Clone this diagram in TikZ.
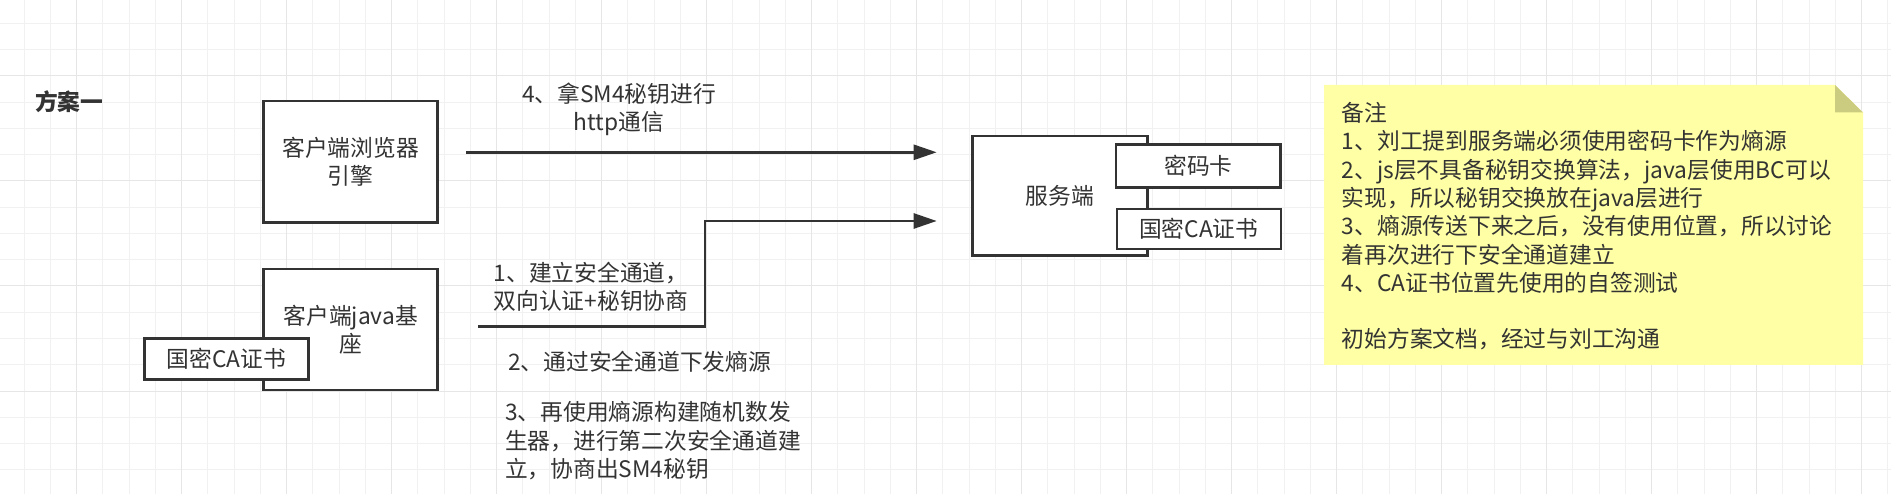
\documentclass[tikz,border=0pt]{standalone}
\usepackage{fontspec}
\setmainfont{Noto Sans CJK SC}
\usetikzlibrary{arrows.meta}
\definecolor{ink}{HTML}{333333}
\definecolor{notefill}{HTML}{FFFFA6}
\definecolor{notefold}{HTML}{CCCC80}
\definecolor{gridminor}{HTML}{F1F1F1}
\definecolor{gridmajor}{HTML}{E6E6E6}
\newcommand{\txtsize}{\fontsize{22.75}{28.3}\selectfont}
\tikzset{
  box/.style={draw=ink,line width=2.6pt,fill=white,align=center,inner sep=0pt,text=ink},
  wire/.style={draw=ink,line width=2.6pt,-{Triangle[length=23pt,width=15pt]}},
  lbl/.style={text=ink,inner sep=0pt},
}
\begin{document}
\begin{tikzpicture}[x=1pt,y=-1pt,font=\txtsize] % plan one: client, server, note
        \useasboundingbox (0,0) rectangle (1891,494);
        \fill[white] (0,0) rectangle (1891,494);
        \foreach \k in {0,...,71} \draw[gridminor,line width=1pt] ({24+\k*26.25},0) -- ({24+\k*26.25},494);
        \foreach \k in {0,...,17} \draw[gridminor,line width=1pt] (0,{23.5+\k*26.25}) -- (1891,{23.5+\k*26.25});
        \foreach \k in {2,6,...,70} \draw[gridmajor,line width=1pt] ({24+\k*26.25},0) -- ({24+\k*26.25},494);
        \foreach \k in {2,6,10,14} \draw[gridmajor,line width=1pt] (0,{23.5+\k*26.25}) -- (1891,{23.5+\k*26.25});
        \node[lbl,anchor=west,font=\txtsize\bfseries] (title) at (35,101.7) {方案一};
        % client side
        \node[box,minimum width=174pt,minimum height=121.5pt] (browser) at (350.7,161.7) {客户端浏览器\\引擎};
        \node[box,minimum width=174pt,minimum height=121pt] (javabase) at (350.7,329.5) {客户端java基\\座};
        \node[box,minimum width=163.5pt,minimum height=41pt] (caleft) at (226.5,359.2) {国密CA证书};
        % server side
        \node[box,minimum width=174.5pt,minimum height=119.5pt] (server) at (1060,195.8) {服务端};
        \node[box,minimum width=164.5pt,minimum height=43pt] (cipher) at (1198.4,165.8) {密码卡};
        \node[box,minimum width=164pt,minimum height=40pt] (caright) at (1198.8,229.2) {国密CA证书};
        % channels
        \coordinate (httpA) at (466,152.3);
        \coordinate (httpB) at (936.7,152.3);
        \coordinate (tlsA) at (478.3,326.7);
        \coordinate (tlsB) at (936.7,221);
        \draw[wire] (httpA) -- (httpB);
        \draw[wire] (tlsA) -- ++(226.7,0) |- (tlsB);
        \node[lbl,align=center] (lblhttp) at (619,109) {4、拿SM4秘钥进行\\http通信};
        \node[lbl,align=center] (lbltls) at (591,286.5) {1、建立安全通道，\\双向认证+秘钥协商};
        \node[lbl,anchor=west] (lblseed) at (508,362) {2、通过安全通道下发熵源};
        \node[lbl,align=left,anchor=north west] (lblsm4) at (505,400.8) {\strut 3、再使用熵源构建随机数发\\生器，进行第二次安全通道建\\立，协商出SM4秘钥};
        % note
        \fill[notefill] (1324,85) -- (1835,85) -- (1863,112.5) -- (1863,365) -- (1324,365) -- cycle;
        \fill[notefold] (1835,85) -- (1835,112.5) -- (1863,112.5) -- cycle;
        \node[lbl,align=left,anchor=north west] (memo) at (1341.7,101.5) {\strut 备注\\1、刘工提到服务端必须使用密码卡作为熵源\\2、js层不具备秘钥交换算法，java层使用BC可以\\实现，所以秘钥交换放在java层进行\\3、熵源传送下来之后，没有使用位置，所以讨论\\着再次进行下安全通道建立\\4、CA证书位置先使用的自签测试\\[28.3pt]初始方案文档，经过与刘工沟通};
\end{tikzpicture}
\end{document}
